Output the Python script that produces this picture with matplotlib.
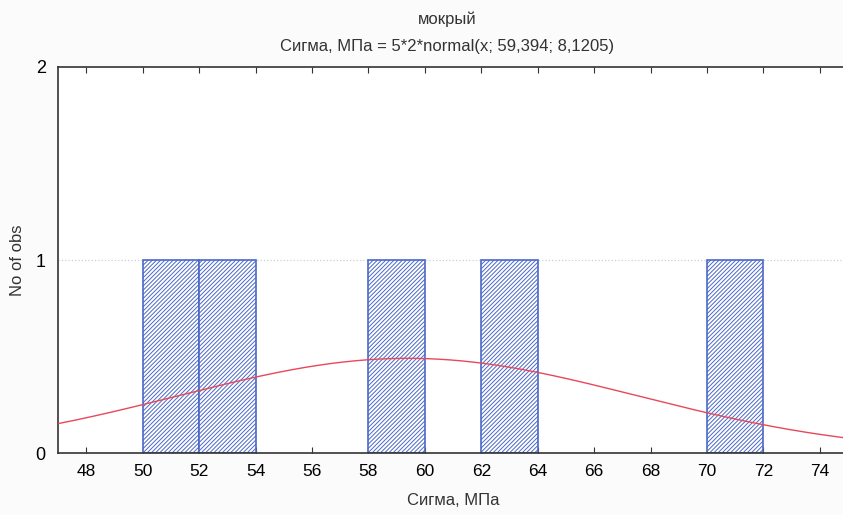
import numpy as np
import matplotlib
matplotlib.use("Agg")
import matplotlib.pyplot as plt

# histogram bins (left edges) and counts
bin_left = [50, 52, 58, 62, 70]
bin_width = 2
counts = [1, 1, 1, 1, 1]

# normal fit shown in the subtitle: 5*2*normal(x; 59,394; 8,1205)
n_obs = 5
fit_mean = 59.394
fit_sd = 8.1205

x_ticks = [48, 50, 52, 54, 56, 58, 60, 62, 64, 66, 68, 70, 72, 74]
y_ticks = [0, 1, 2]

plt.rcParams["font.family"] = ["Liberation Sans", "DejaVu Sans"]
plt.rcParams["hatch.color"] = "#5a78d0"
plt.rcParams["hatch.linewidth"] = 0.7

fig = plt.figure(figsize=(8.43, 5.15), dpi=100)
fig.patch.set_facecolor("#fbfbfb")
ax = fig.add_axes([0.069, 0.120, 0.937, 0.750])
ax.set_facecolor("white")

ax.bar(bin_left, counts, width=bin_width, align="edge", facecolor="white",
       edgecolor="#4a68c8", hatch="////////", linewidth=1.2, zorder=2)

xs = np.linspace(47, 75, 400)
ys = n_obs * bin_width * np.exp(-0.5 * ((xs - fit_mean) / fit_sd) ** 2) / (fit_sd * np.sqrt(2 * np.pi))
ax.plot(xs, ys, color="#e8485a", linewidth=1.0, zorder=3)

ax.axhline(1, color="#c8d0dc", linestyle=":", linewidth=0.9, zorder=1)

ax.set_xlim(47, 75)
ax.set_ylim(0, 2)
ax.set_xticks(x_ticks)
ax.set_yticks(y_ticks)
ax.tick_params(axis="x", direction="in", top=True, length=4, color="#333333",
               labelsize=12.5, pad=8)
ax.tick_params(axis="y", direction="in", length=0, labelsize=13, pad=9)

for side in ["left", "bottom", "top"]:
    ax.spines[side].set_color("#333333")
    ax.spines[side].set_linewidth(1.2)
ax.spines["right"].set_visible(False)

ax.set_xlabel("Сигма, МПа", fontsize=12, color="#333333", labelpad=10)
ax.set_ylabel("No of obs", fontsize=12, color="#333333")
ax.yaxis.set_label_coords(-0.042, 0.5)

fig.text(0.530, 0.963, "мокрый", ha="center", va="center", fontsize=12, color="#333333")
fig.text(0.530, 0.910, "Сигма, МПа = 5*2*normal(x; 59,394; 8,1205)", ha="center",
         va="center", fontsize=12, color="#333333")

fig.savefig("out.png", dpi=100, facecolor=fig.get_facecolor())
